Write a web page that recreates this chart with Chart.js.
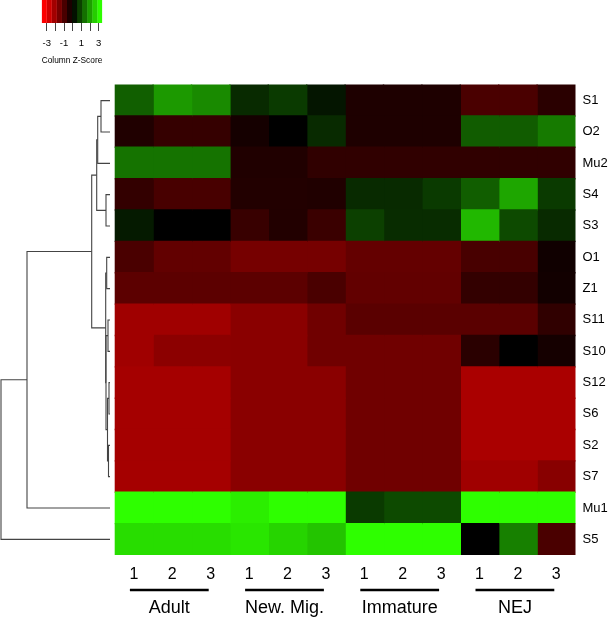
<!DOCTYPE html>
<html>
<head>
<meta charset="utf-8">
<script src="https://cdn.jsdelivr.net/npm/chart.js@4.4.1/dist/chart.umd.min.js"></script>
<style>
  body { margin: 0; background: #fff; }
  #wrap { position: relative; width: 611px; height: 620px; }
  canvas { position: absolute; }
</style>
</head>
<body>
<div id="wrap">
  <canvas id="heat" width="611" height="620" style="left:0;top:0"></canvas>
  <canvas id="dendro" width="112" height="470" style="left:0;top:85px"></canvas>
  <canvas id="key" width="140" height="72" style="left:0;top:0"></canvas>
</div>
<script>
// rows top to bottom, as in the picture
const genes = ["S1", "O2", "Mu2", "S4", "S3", "O1", "Z1", "S11", "S10", "S12", "S6", "S2", "S7", "Mu1", "S5"];
const groups = ["Adult", "New. Mig.", "Immature", "NEJ"];
const reps = ["1", "2", "3"];

// column z-scores, columns: Adult 1-3, New. Mig. 1-3, Immature 1-3, NEJ 1-3
const zS1  = [1.27, 2.04, 1.84, 0.56, 0.77, 0.28, -0.42, -0.42, -0.42, -1.04, -1.04, -0.59];
const zO2  = [-0.45, -0.75, -0.75, -0.30, 0.00, 0.56, -0.42, -0.42, -0.42, 1.23, 1.23, 1.63];
const zMu2 = [1.53, 1.53, 1.53, -0.45, -0.45, -0.68, -0.68, -0.68, -0.68, -0.68, -0.68, -0.68];
const zS4  = [-0.72, -1.02, -1.02, -0.48, -0.48, -0.45, 0.56, 0.56, 0.77, 1.25, 2.21, 0.77];
const zS3  = [0.35, 0.00, 0.00, -0.79, -0.48, -0.82, 0.85, 0.59, 0.59, 2.45, 0.99, 0.56];
const zO1  = [-1.04, -1.38, -1.38, -1.67, -1.67, -1.67, -1.41, -1.41, -1.41, -1.02, -1.02, -0.23];
const zZ1  = [-1.30, -1.30, -1.30, -1.30, -1.30, -1.04, -1.38, -1.38, -1.38, -0.72, -0.72, -0.25];
const zS11 = [-2.26, -2.26, -2.26, -1.95, -1.95, -1.58, -1.27, -1.27, -1.27, -1.27, -1.27, -0.68];
const zS10 = [-2.26, -1.98, -1.98, -1.95, -1.95, -1.58, -1.58, -1.58, -1.58, -0.59, 0.00, -0.30];
const zS12 = [-2.33, -2.33, -2.33, -1.95, -1.95, -1.95, -1.58, -1.58, -1.58, -2.40, -2.40, -2.40];
const zS6  = [-2.33, -2.33, -2.33, -1.95, -1.95, -1.95, -1.58, -1.58, -1.58, -2.40, -2.40, -2.40];
const zS2  = [-2.33, -2.33, -2.33, -1.95, -1.95, -1.95, -1.58, -1.58, -1.58, -2.40, -2.40, -2.40];
const zS7  = [-2.33, -2.33, -2.33, -1.95, -1.95, -1.95, -1.58, -1.58, -1.58, -2.26, -2.26, -1.92];
const zMu1 = [3.40, 3.40, 3.40, 3.17, 3.40, 3.40, 0.77, 0.99, 0.99, 3.40, 3.40, 3.40];
const zS5  = [2.95, 2.95, 2.95, 3.07, 2.83, 2.61, 3.40, 3.40, 3.40, 0.00, 1.71, -1.04];
const zRows = [zS1, zO2, zMu2, zS4, zS3, zO1, zZ1, zS11, zS10, zS12, zS6, zS2, zS7, zMu1, zS5];

// row dendrogram (hclust style): negative = leaf row (1-based), positive = earlier merge
const mergeLeft   = [-1, 1, -4, 2, -6, -8, -10, -12, 7, 6, 5, 4, 12, 13];
const mergeRight  = [-2, -3, -5, 3, -7, -9, -11, -13, 8, 9, 10, 11, -14, -15];
const mergeHeight = [9, 12.3, 4, 13.3, 3.3, 2, 1, 1.5, 2.5, 4, 4.3, 18.3, 83, 109];

// colour key
const keyMin = -3.58, keyMax = 3.42, keyBins = 12;

const FONT = "'Liberation Sans', Arial, sans-serif";
Chart.defaults.font.family = FONT;
Chart.defaults.color = "#000";

function zColor(z) {
    if (z < 0) {
        const r = Math.round(255 * Math.min(1, -z / 3.6));
        return `rgb(${r},0,0)`;
    }
    const g = Math.round(255 * Math.min(1, z / 3.4));
    return `rgb(${Math.round(g * 0.18)},${g},0)`;
}

const nCols = groups.length * reps.length;
const colLabels = [];
groups.forEach(() => reps.forEach(r => colLabels.push(r)));

// ---------- heatmap ----------
const heatSets = [];
for (let c = 0; c < nCols; c++) {
    heatSets.push({
        data: genes.map(() => 1),
        backgroundColor: zRows.map(row => zColor(row[c])),
        borderWidth: 0,
        barPercentage: 1,
        categoryPercentage: 1,
        inflateAmount: 0.7
    });
}

const groupPlugin = {
    id: "groups",
    afterDraw(chart) {
        const ctx = chart.ctx;
        const xs = chart.scales.x;
        ctx.save();
        ctx.strokeStyle = "#000";
        ctx.lineWidth = 2.6;
        ctx.fillStyle = "#000";
        ctx.font = "18px " + FONT;
        ctx.textAlign = "center";
        ctx.textBaseline = "middle";
        groups.forEach((g, i) => {
            const a = xs.getPixelForValue(i * 3 + 0.5) - 4;
            const b = xs.getPixelForValue(i * 3 + 2.5) - 2;
            ctx.beginPath();
            ctx.moveTo(a, 590);
            ctx.lineTo(b, 590);
            ctx.stroke();
            ctx.fillText(g, xs.getPixelForValue(i * 3 + 1.5) - 3, 608);
        });
        ctx.restore();
    }
};

new Chart(document.getElementById("heat"), {
    type: "bar",
    data: { labels: genes, datasets: heatSets },
    options: {
        indexAxis: "y",
        responsive: false,
        animation: false,
        layout: { padding: { left: 114.7, top: 84.6, right: 0, bottom: 0 } },
        plugins: { legend: { display: false }, tooltip: { enabled: false } },
        scales: {
            x: {
                type: "linear", stacked: true, min: 0, max: nCols,
                grid: { display: false, drawTicks: false },
                border: { display: false },
                afterBuildTicks: s => { s.ticks = colLabels.map((_, i) => ({ value: i + 0.5 })); },
                afterFit: s => { s.height = 65; },
                ticks: {
                    autoSkip: false, maxRotation: 0, padding: 10,
                    font: { size: 16 },
                    callback: v => colLabels[Math.floor(v)]
                }
            },
            y: {
                stacked: true, position: "right",
                grid: { display: false, drawTicks: false },
                border: { display: false },
                afterFit: s => { s.width = 35.5; },
                ticks: { padding: 7, font: { size: 13 } }
            }
        }
    },
    plugins: [groupPlugin]
});

// ---------- dendrogram ----------
const nodeY = [], nodeH = [];
function posOf(id) {
    return id < 0 ? { y: -id - 0.5, h: 0 } : { y: nodeY[id - 1], h: nodeH[id - 1] };
}
const dendroSets = mergeLeft.map((l, k) => {
    const A = posOf(l), B = posOf(mergeRight[k]), h = mergeHeight[k];
    nodeY.push((A.y + B.y) / 2);
    nodeH.push(h);
    return {
        data: [{ x: A.h, y: A.y }, { x: h, y: A.y }, { x: h, y: B.y }, { x: B.h, y: B.y }],
        showLine: true, borderColor: "#444", borderWidth: 1.1, pointRadius: 0, fill: false
    };
});

new Chart(document.getElementById("dendro"), {
    type: "scatter",
    data: { datasets: dendroSets },
    options: {
        responsive: false,
        animation: false,
        layout: { padding: 0 },
        plugins: { legend: { display: false }, tooltip: { enabled: false } },
        scales: {
            x: { display: false, min: -2, max: 110, reverse: true },
            y: { display: false, min: 0, max: genes.length, reverse: true }
        }
    }
});

// ---------- colour key ----------
const keyStep = (keyMax - keyMin) / keyBins;
const keySets = [];
for (let i = 0; i < keyBins; i++) {
    const a = keyMin + i * keyStep, b = a + keyStep;
    keySets.push({
        data: [[a + 0.03, b - 0.03]],
        backgroundColor: zColor((a + b) / 2 * 1.08),
        grouped: false, barPercentage: 1, categoryPercentage: 1, borderWidth: 0
    });
}

new Chart(document.getElementById("key"), {
    type: "bar",
    data: { labels: [""], datasets: keySets },
    options: {
        indexAxis: "y",
        responsive: false,
        animation: false,
        layout: { padding: { left: 41.7, right: 37.7, top: 0, bottom: 6 } },
        plugins: { legend: { display: false }, tooltip: { enabled: false } },
        scales: {
            x: {
                type: "linear", min: keyMin, max: keyMax,
                grid: { drawOnChartArea: false, drawTicks: true, tickLength: 8, color: "#444" },
                border: { display: false },
                afterBuildTicks: s => { s.ticks = [-3, -2, -1, 0, 1, 2, 3].map(v => ({ value: v })); },
                afterFit: s => { s.height = 43; },
                ticks: {
                    autoSkip: false, maxRotation: 0, padding: 7, font: { size: 9.5 },
                    callback: v => (Math.abs(v) % 2 === 1 ? String(v) : "")
                },
                title: { display: true, text: "Column Z-Score", font: { size: 9.5 }, padding: { top: 0, bottom: 0 } }
            },
            y: { display: false }
        }
    }
});
</script>
</body>
</html>
